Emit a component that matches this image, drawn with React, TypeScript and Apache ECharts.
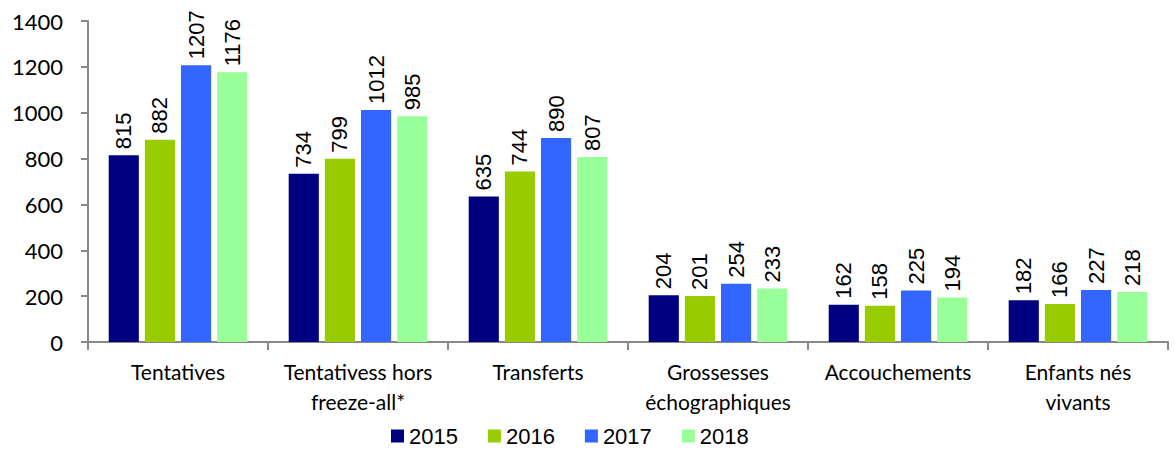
import React, { useEffect, useRef } from "react";
import * as echarts from "echarts";

const categories = [
  "Tentatives",
  "Tentativess hors\nfreeze-all*",
  "Transferts",
  "Grossesses\néchographiques",
  "Accouchements",
  "Enfants nés\nvivants",
];
const years = ["2015", "2016", "2017", "2018"];
const values2015 = [815, 734, 635, 204, 162, 182];
const values2016 = [882, 799, 744, 201, 158, 166];
const values2017 = [1207, 1012, 890, 254, 225, 227];
const values2018 = [1176, 985, 807, 233, 194, 218];
const colors = ["#000080", "#99CC00", "#3366FF", "#99FF99"];
const yTicks = { min: 0, max: 1400, interval: 200 };

const ARIAL = "'Liberation Sans', Arial, sans-serif";

export default function App() {
  const ref = useRef<HTMLDivElement>(null);
  useEffect(() => {
    if (!ref.current) return;
    const chart = echarts.init(ref.current, null, { renderer: "svg" });
    const all = [values2015, values2016, values2017, values2018];
    chart.setOption({
      animation: false,
      grid: { left: 88, right: 7, top: 21, bottom: 108, containLabel: false },
      legend: {
        top: 425,
        left: 391,
        padding: 0,
        itemWidth: 13,
        itemHeight: 13,
        itemGap: 30,
        icon: "rect",
        textStyle: { fontFamily: ARIAL, fontSize: 22, color: "#000" },
        data: years,
      },
      xAxis: {
        type: "category",
        data: categories,
        axisLine: { lineStyle: { color: "#888888", width: 2 } },
        axisTick: { show: true, length: 8, lineStyle: { color: "#888888", width: 2 }, alignWithLabel: false },
        axisLabel: {
          fontFamily: "Lato",
          fontSize: 21,
          color: "#000",
          margin: 14,
          lineHeight: 30,
          interval: 0,
        },
      },
      yAxis: {
        type: "value",
        min: yTicks.min,
        max: yTicks.max,
        interval: yTicks.interval,
        axisLine: { show: true, lineStyle: { color: "#888888", width: 2 } },
        axisTick: { show: true, length: 7, lineStyle: { color: "#888888", width: 2 } },
        splitLine: { show: false },
        axisLabel: {
          fontFamily: "Lato",
          fontSize: 22,
          color: "#000",
          margin: 25,
          formatter: (v: number) => String(v),
        },
      },
      series: years.map((y, i) => ({
        name: y,
        type: "bar",
        data: all[i],
        barGap: "20%",
        barCategoryGap: "23%",
        itemStyle: { color: colors[i] },
        label: {
          show: true,
          position: "top",
          rotate: 90,
          align: "left",
          verticalAlign: "middle",
          distance: 6,
          fontFamily: ARIAL,
          fontSize: 22,
          color: "#000",
        },
      })),
    });
    return () => chart.dispose();
  }, []);
  return <div ref={ref} style={{ width: 1175, height: 450, position: "absolute", left: 0, top: 0 }} />;
}
